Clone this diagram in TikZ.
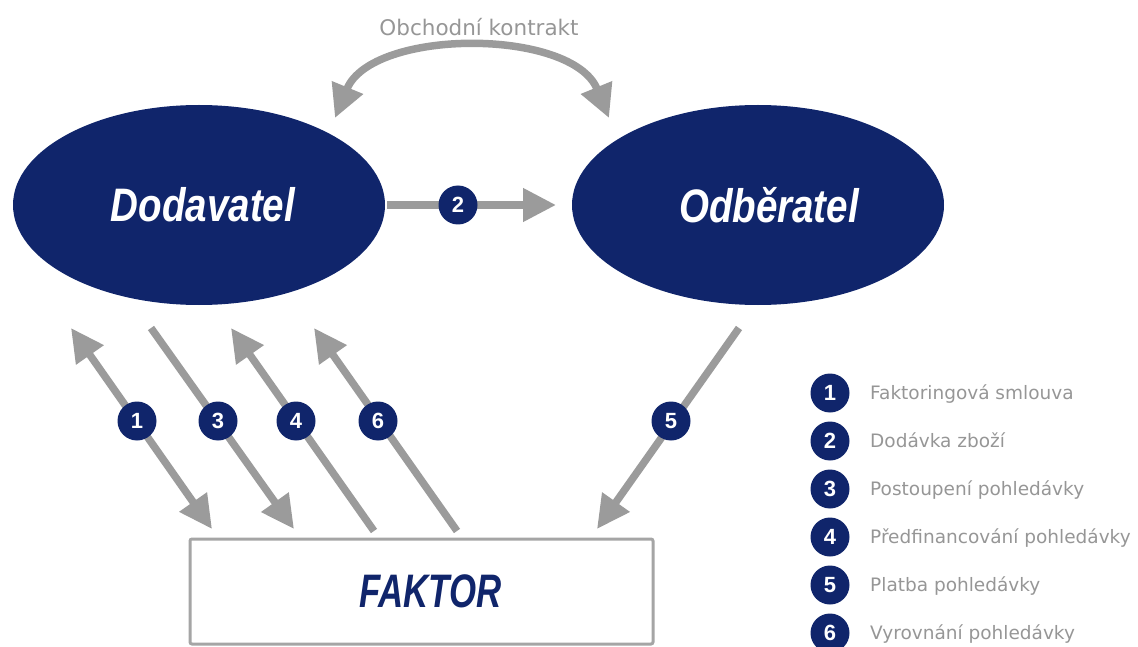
\documentclass[tikz,border=0pt]{standalone}
\usepackage{fontspec}
\usepackage{graphicx}
\setmainfont{Liberation Sans}
\newfontfamily\legendfont{DejaVu Sans}
\usetikzlibrary{arrows.meta,shapes.geometric}
\definecolor{navy}{RGB}{16,37,107}
\definecolor{arrowgray}{RGB}{155,155,155}
\definecolor{textgray}{RGB}{150,150,150}

\tikzset{
  party/.style={ellipse, fill=navy, text=white, inner sep=0pt,
    minimum width=372pt, minimum height=200pt,
    font=\bfseries\itshape\fontsize{47}{47}\selectfont},
  num/.style={circle, fill=navy, text=white, inner sep=0pt, minimum size=39pt,
    font=\bfseries\fontsize{22}{22}\selectfont},
  flow/.style={draw=arrowgray, line width=7.5pt, -{Triangle[width=32pt,length=33pt]}},
  flowboth/.style={flow, {Triangle[width=32pt,length=33pt]}-{Triangle[width=32pt,length=33pt]}},
  flowback/.style={flow, {Triangle[width=32pt,length=33pt]}-},
  legendtext/.style={anchor=base west, text=textgray, inner sep=0pt,
    font=\legendfont\fontsize{18.5}{18.5}\selectfont},
}

\begin{document}
\begin{tikzpicture}[x=1pt,y=-1pt]
\useasboundingbox (0,0) rectangle (1138,647);

% Nodes
\node[party] (Dod) at (199,205) {\hspace*{8pt}\scalebox{0.82}[1]{Dodavatel}};
\node[party] (Odb) at (758,205) {\hspace*{22pt}\scalebox{0.82}[1]{Odběratel}};
\node[draw=arrowgray!90, line width=3pt, rounded corners=2pt, fill=white,
  minimum width=463pt, minimum height=105pt, text=navy,
  font=\bfseries\itshape\fontsize{47}{47}\selectfont] (Fak) at (421.5,591.5)
  {\hspace*{18pt}\scalebox{0.74}[1]{FAKTOR}};
\node[text=textgray, font=\fontsize{21.5}{21.5}\selectfont\legendfont] (Kontr) at (479,27) {Obchodní kontrakt};

% Free ends of the arrows
\coordinate (c1a) at (71,328);  \coordinate (c1b) at (212,529);
\coordinate (c3a) at (151,328); \coordinate (c3b) at (294,529);
\coordinate (c4a) at (231,328); \coordinate (c4b) at (374,531);
\coordinate (c6a) at (314,328); \coordinate (c6b) at (457,531);
\coordinate (c5a) at (739,328); \coordinate (c5b) at (597,529);
\coordinate (c2a) at (387,205); \coordinate (c2b) at (556,205);
\coordinate (cka) at (335,118); \coordinate (ckb) at (609,118);

% Arrows
\draw[flowboth] (cka) .. controls (372,28) and (572,28) .. (ckb);
\draw[flow] (c2a) -- (c2b);
\draw[flowboth] (c1a) -- (c1b);
\draw[flow] (c3a) -- (c3b);
\draw[flowback] (c4a) -- (c4b);
\draw[flowback] (c6a) -- (c6b);
\draw[flow] (c5a) -- (c5b);

% Numbers on the arrows
\node[num] (n2) at (458,205) {2};
\node[num] (n1) at (137,421) {1};
\node[num] (n3) at (218,421) {3};
\node[num] (n4) at (296,421) {4};
\node[num] (n6) at (378,421) {6};
\node[num] (n5) at (671,421) {5};

% Legend
\foreach \n/\txt [count=\i] in {1/Faktoringová smlouva, 2/Dodávka zboží,
    3/Postoupení pohledávky, 4/Předfinancování pohledávky,
    5/Platba pohledávky, 6/Vyrovnání pohledávky} {
  \node[num] (l\n) at (830,{393+(\i-1)*48}) {\n};
  \node[legendtext] (t\n) at (870,{399.5+(\i-1)*48}) {\txt};
}
\end{tikzpicture}
\end{document}
